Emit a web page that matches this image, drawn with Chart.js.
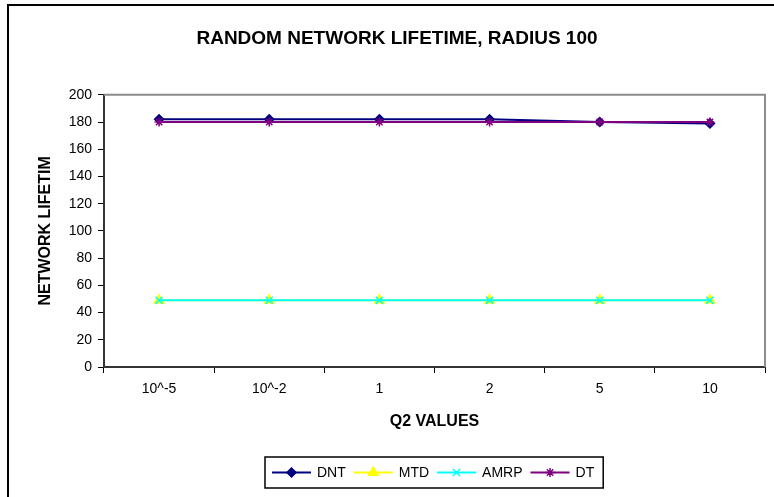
<!DOCTYPE html>
<html>
<head>
<meta charset="utf-8">
<script src="https://cdn.jsdelivr.net/npm/chart.js@4"></script>
<style>
  html, body { margin: 0; padding: 0; background: #fff; }
  #grafico { display: block; }
</style>
</head>
<body>
<canvas id="grafico" width="774" height="497"></canvas>
<script>
const categorias = ["10^-5", "10^-2", "1", "2", "5", "10"];
const dnt = [182, 182, 182, 182, 180, 179];
const mtd = [49, 49, 49, 49, 49, 49];
const amrp = [49, 49, 49, 49, 49, 49];
const dt = [180, 180, 180, 180, 180, 180];

const fonte = "'Liberation Sans', Arial, sans-serif";
Chart.defaults.font.family = fonte;
Chart.defaults.color = "#000";

// moldura externa (so esquerda e topo aparecem no recorte)
const moldura = {
  id: "moldura",
  beforeDraw(chart) {
    const ctx = chart.ctx;
    ctx.save();
    ctx.fillStyle = "#fff";
    ctx.fillRect(0, 0, chart.width, chart.height);
    ctx.strokeStyle = "#000";
    ctx.lineWidth = 2;
    ctx.beginPath();
    ctx.moveTo(8, chart.height);
    ctx.lineTo(8, 5);
    ctx.lineTo(chart.width, 5);
    ctx.stroke();
    ctx.restore();
  },
  beforeDatasetsDraw(chart) {
    const { ctx, chartArea: a } = chart;
    ctx.save();
    ctx.strokeStyle = "#8c8c8c";
    ctx.lineWidth = 2;
    ctx.beginPath();
    ctx.moveTo(a.left, a.top);
    ctx.lineTo(a.right, a.top);
    ctx.lineTo(a.right, a.bottom);
    ctx.stroke();
    ctx.restore();
  },
};

// legenda estilo Excel: linha + marcador
const legenda = {
  id: "legenda",
  afterDraw(chart) {
    const { ctx, chartArea: a } = chart;
    ctx.save();
    ctx.font = "14px " + fonte;
    const linha = 39, gap = 6, esp = 8, padL = 7, padR = 9, h = 31;
    const itens = chart.data.datasets.map((ds) => ({ ds, w: linha + gap + ctx.measureText(ds.label).width }));
    const total = itens.reduce((s, it) => s + it.w, 0) + esp * (itens.length - 1) + padL + padR;
    const x0 = Math.round((a.left + a.right) / 2 - total / 2);
    const y0 = chart.height - 40;
    ctx.strokeStyle = "#000";
    ctx.lineWidth = 1.5;
    ctx.strokeRect(x0, y0, total, h);
    let x = x0 + padL;
    const y = y0 + h / 2;
    itens.forEach(({ ds, w }) => {
      ctx.strokeStyle = ds.borderColor;
      ctx.lineWidth = 2;
      ctx.beginPath();
      ctx.moveTo(x, y);
      ctx.lineTo(x + linha, y);
      ctx.stroke();
      ctx.fillStyle = ds.pointBackgroundColor;
      ctx.strokeStyle = ds.pointBorderColor;
      ctx.lineWidth = ds.pointBorderWidth;
      Chart.helpers.drawPoint(ctx, { pointStyle: ds.pointStyle, radius: ds.pointRadius, borderWidth: ds.pointBorderWidth, rotation: 0 }, x + linha / 2, y);
      ctx.fillStyle = "#000";
      ctx.textBaseline = "middle";
      ctx.textAlign = "left";
      ctx.fillText(ds.label, x + linha + gap, y + 1);
      x += w + esp;
    });
    ctx.restore();
  },
};

function serie(label, data, cor, estilo, raio, ordem) {
  return {
    label: label,
    data: data,
    borderColor: cor,
    backgroundColor: cor,
    borderWidth: 2,
    pointStyle: estilo,
    pointRadius: raio,
    pointHoverRadius: raio,
    pointBackgroundColor: cor,
    pointBorderColor: cor,
    pointBorderWidth: 1.5,
    tension: 0,
    order: ordem,
  };
}

new Chart(document.getElementById("grafico"), {
  type: "line",
  data: {
    labels: categorias,
    datasets: [
      serie("DNT", dnt, "#000080", "rectRot", 4.5, 3),
      serie("MTD", mtd, "#FFFF00", "triangle", 5.5, 2),
      serie("AMRP", amrp, "#00FFFF", "crossRot", 5, 1),
      serie("DT", dt, "#800080", "star", 4.5, 0),
    ],
  },
  options: {
    responsive: false,
    animation: false,
    devicePixelRatio: 1,
    layout: { padding: { left: 29, right: 9, top: 0, bottom: 0 } },
    plugins: {
      legend: { display: false },
      tooltip: { enabled: false },
      title: {
        display: true,
        text: "RANDOM NETWORK LIFETIME, RADIUS 100",
        color: "#000",
        font: { size: 19, weight: "bold" },
        padding: { top: 27, bottom: 45 },
      },
    },
    scales: {
      x: {
        offset: true,
        grid: { offset: true, drawOnChartArea: false, tickLength: 6, color: "#000" },
        border: { color: "#333", width: 2 },
        ticks: { font: { size: 14 }, color: "#000", padding: 8, maxRotation: 0 },
        title: {
          display: true,
          text: "Q2 VALUES",
          color: "#000",
          font: { size: 16, weight: "bold" },
          padding: { top: 0, bottom: 66 },
        },
        afterFit: (s) => { s.height = 130; },
      },
      y: {
        min: 0,
        max: 200,
        grid: { drawOnChartArea: false, tickLength: 6, color: "#000" },
        border: { color: "#333", width: 2 },
        ticks: { stepSize: 20, font: { size: 14 }, color: "#000", padding: 6 },
        title: {
          display: true,
          text: "NETWORK LIFETIM",
          color: "#000",
          font: { size: 16, weight: "bold" },
          padding: { top: 7, bottom: 0 },
        },
        afterFit: (s) => { s.width = 75; },
      },
    },
  },
  plugins: [moldura, legenda],
});
</script>
</body>
</html>
